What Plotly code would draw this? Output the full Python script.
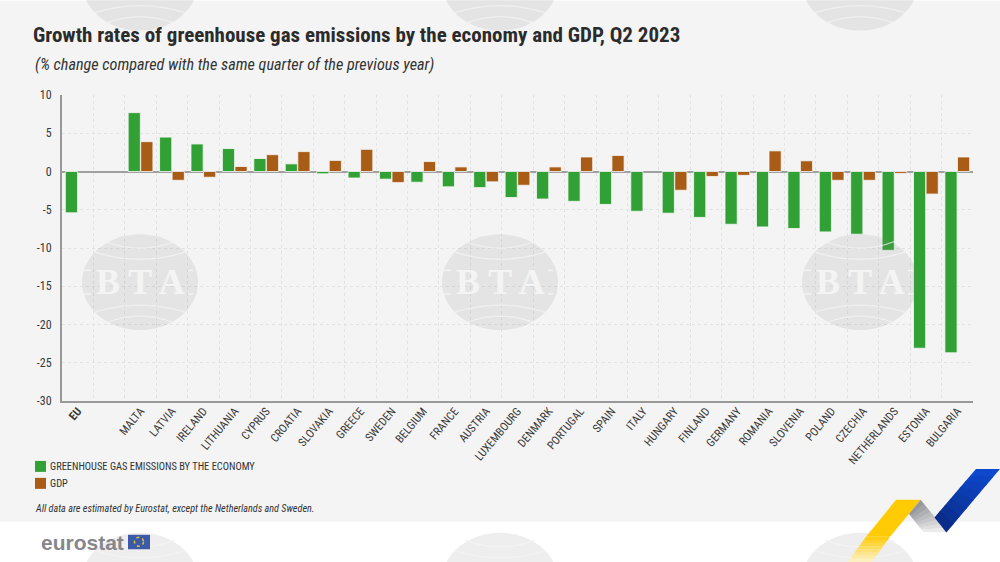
import plotly.graph_objects as go

countries = ["<b>EU</b>", " ", "MALTA", "LATVIA", "IRELAND", "LITHUANIA", "CYPRUS", "CROATIA", "SLOVAKIA", "GREECE",
             "SWEDEN", "BELGIUM", "FRANCE", "AUSTRIA", "LUXEMBOURG", "DENMARK", "PORTUGAL", "SPAIN", "ITALY",
             "HUNGARY", "FINLAND", "GERMANY", "ROMANIA", "SLOVENIA", "POLAND", "CZECHIA", "NETHERLANDS",
             "ESTONIA", "BULGARIA"]
emissions = [-5.4, None, 7.7, 4.5, 3.6, 3.0, 1.7, 1.0, -0.3, -0.85, -1.0, -1.4, -2.0, -2.1, -3.4, -3.6, -3.9, -4.3,
             -5.2, -5.45, -6.0, -6.9, -7.25, -7.45, -7.9, -8.2, -10.3, -23.1, -23.7]
gdp = [None, None, 3.9, -1.15, -0.75, 0.65, 2.2, 2.6, 1.45, 2.9, -1.45, 1.3, 0.6, -1.35, -1.8, 0.6, 1.9, 2.1,
       None, -2.45, -0.65, -0.5, 2.7, 1.4, -1.15, -1.15, -0.25, -2.95, 1.9]
y_ticks = [10, 5, 0, -5, -10, -15, -20, -25, -30]
y_labels = ["10", "5", "0", "-5", "-10", "-15", "-20", "-25", "-30"]
series_names = ["GREENHOUSE GAS EMISSIONS BY THE ECONOMY", "GDP"]
series_colors = ["#32a135", "#a95c16"]

W, H = 1000, 562
L, R, T, B = 62, 973, 94.5, 401
NARROW = "Roboto Condensed"
def px(x): return (x - L) / (R - L)
def py(y): return (B - y) / (B - T)

shapes = []
annotations = []
def rect(x0, y0, x1, y1, color, layer="below"):
    shapes.append(dict(type="rect", xref="paper", yref="paper", x0=px(x0), x1=px(x1), y0=py(y0), y1=py(y1),
                       fillcolor=color, line_width=0, layer=layer))
def poly(pts, color, layer="above"):
    path = "M" + "L".join(f"{px(a):.5f},{py(b):.5f}" for a, b in pts) + "Z"
    shapes.append(dict(type="path", xref="paper", yref="paper", path=path, fillcolor=color, line_width=0, layer=layer))
def text(x, y, s, size, color="#3a3a3a", anchor="left", font=NARROW):
    annotations.append(dict(xref="paper", yref="paper", x=px(x), y=py(y), text=s, showarrow=False, xanchor=anchor,
                            yanchor="middle", align="left", font=dict(family=font, size=size, color=color),
                            borderpad=0, borderwidth=0))

# page background
rect(0, 0, W, 522, "#f4f4f4")

# BTA watermarks
WM = "rgba(120,120,120,0.13)"
def arc(cx, x_half, y_end, y_ctrl):
    return (f"M{px(cx-x_half):.5f},{py(y_end):.5f}Q{px(cx):.5f},{py(y_ctrl):.5f} {px(cx+x_half):.5f},{py(y_end):.5f}")
for cx in (140, 500, 860):
    for cy in (-18, 282, 581):
        shapes.append(dict(type="circle", xref="paper", yref="paper", x0=px(cx-58), x1=px(cx+58),
                           y0=py(cy-48), y1=py(cy+48), fillcolor=WM, line_width=0, layer="above"))
        for half, edge in ((45, 30), (35, 41)):
            for sign in (-1, 1):
                shapes.append(dict(type="path", xref="paper", yref="paper",
                                   path=arc(cx, half, cy - sign*edge, cy - sign*(edge - 14)),
                                   line=dict(color="rgba(244,244,244,0.75)", width=1.3), layer="above"))
        if 0 < cy < 500:
            rect(cx-56, cy-12.5, cx-49, cy-11, "#f4f4f4", "above")
            rect(cx+48, cy-12.5, cx+53, cy-11, "#f4f4f4", "above")
            rect(cx-56, cy+11, cx-49, cy+12.5, "#f4f4f4", "above")
            rect(cx+48, cy+11, cx+53, cy+12.5, "#f4f4f4", "above")
            text(cx, cy, "<b>B T A</b>", 36, "#f4f4f4", "center", "Liberation Serif")

# texts
text(33, 34, "<b>Growth rates of greenhouse gas emissions by the economy and GDP, Q2 2023</b>", 21, "#2b2b2b")
text(35, 64, "<i>(% change compared with the same quarter of the previous year)</i>", 16.2, "#333333")
text(35, 509, "<i>All data are estimated by Eurostat, except the Netherlands and Sweden.</i>", 10.2, "#333333")
text(41, 543, "<b>eurostat</b>", 21, "#85878c", "left", "Liberation Sans")

# legend
for i, (name, color) in enumerate(zip(series_names, series_colors)):
    y0 = 461 + i * 17
    rect(35, y0, 46, y0 + 11, color, "above")
    text(50, y0 + 5.5, name, 10.4, "#333333")

# EU flag
rect(128, 535, 150, 549.5, "#3c5aa8", "above")
shapes.append(dict(type="circle", xref="paper", yref="paper", x0=px(134.5), x1=px(143.5), y0=py(537.5), y1=py(546.5),
                   line=dict(color="#d9c23c", width=1.5, dash="dot"), layer="above"))

# chevron logo
def mix(a, b, t): return "#%02x%02x%02x" % tuple(round(a[i] + (b[i] - a[i]) * t) for i in range(3))
def grad(p0, p1, q0, q1, c0, c1, n=8):
    for i in range(n):
        t0, t1 = i / n, (i + 1.1) / n
        a = (p0[0] + (q0[0]-p0[0])*t0, p0[1] + (q0[1]-p0[1])*t0)
        b = (p1[0] + (q1[0]-p1[0])*t0, p1[1] + (q1[1]-p1[1])*t0)
        c = (p1[0] + (q1[0]-p1[0])*t1, p1[1] + (q1[1]-p1[1])*t1)
        d = (p0[0] + (q0[0]-p0[0])*t1, p0[1] + (q0[1]-p0[1])*t1)
        poly([a, b, c, d], mix(c0, c1, i / (n - 1)))
poly([(896, 500), (920.6, 500), (890, 537), (866, 537)], "#ffcb05")
grad((866, 537), (890, 537), (848, 562), (872, 562), (255, 205, 20), (252, 240, 190), 8)
grad((920.6, 500), (909, 514), (947, 532), (923, 532), (150, 152, 158), (235, 235, 235), 8)
grad((976, 469), (1000, 469), (935, 517), (947, 532), (14, 72, 205), (10, 45, 140), 8)

fig = go.Figure()
for name, values, color in zip(series_names, (emissions, gdp), series_colors):
    fig.add_bar(name=name, x=countries, y=values, marker=dict(color=color, line=dict(color="#f8f8f8", width=0.8)))
fig.update_layout(
    width=W, height=H, autosize=False, barmode="group", bargap=0.2, bargroupgap=0.03,
    margin=dict(l=L, r=W-R, t=T, b=H-B, pad=0),
    paper_bgcolor="#ffffff", plot_bgcolor="rgba(0,0,0,0)",
    font=dict(family=NARROW, color="#3a3a3a", size=12),
    shapes=shapes, annotations=annotations, showlegend=False,
    xaxis=dict(type="category", categoryorder="array", categoryarray=countries, tickson="boundaries",
               showgrid=True, gridcolor="#e2e2e2", griddash="dot", gridwidth=1, ticks="", tickangle=-50,
               ticklabelstandoff=-3,
               tickfont=dict(family=NARROW, size=11.5, color="#3a3a3a"), showline=True, linecolor="#999999",
               linewidth=2, zeroline=False, automargin=False),
    yaxis=dict(range=[-30, 10], tickvals=y_ticks, ticktext=y_labels, showgrid=True, gridcolor="#e2e2e2", griddash="dot", gridwidth=1,
               zeroline=True, zerolinecolor="#a0a0a0", zerolinewidth=2, showline=True, linecolor="#999999",
               linewidth=2, ticks="", ticklabelstandoff=6, tickfont=dict(family=NARROW, size=12, color="#3a3a3a"),
               automargin=False),
)
fig.write_html("out.html", config=dict(displayModeBar=False),
               post_script="document.body.style.margin='0';document.body.style.overflow='hidden';")
